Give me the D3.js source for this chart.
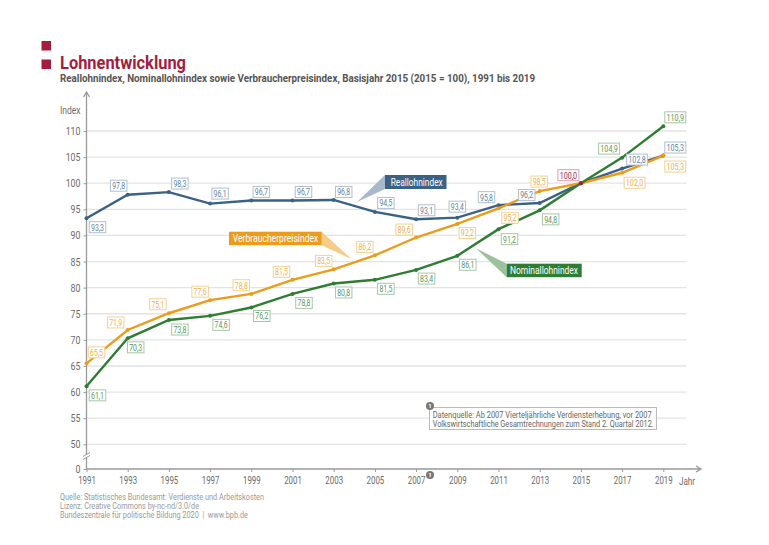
<!DOCTYPE html>
<html>
<head>
<meta charset="utf-8">
<script src="https://cdn.jsdelivr.net/npm/d3@7"></script>
<style>
  html, body { margin: 0; padding: 0; background: #fff; }
  svg { display: block; }
  text { font-family: Roboto, sans-serif; }
</style>
</head>
<body>
<script>
var years = [1991,1993,1995,1997,1999,2001,2003,2005,2007,2009,2011,2013,2015,2017,2019];
var reallohn = [93.3,97.8,98.3,96.1,96.7,96.7,96.8,94.5,93.1,93.4,95.8,96.2,100,102.8,105.3];
var nominallohn = [61.1,70.3,73.8,74.6,76.2,78.8,80.8,81.5,83.4,86.1,91.2,94.8,100,104.9,110.9];
var verbraucher = [65.5,71.9,75.1,77.6,78.8,81.5,83.5,86.2,89.6,92.2,95.2,98.5,100,102.0,105.3];
var yTicks = [0,50,55,60,65,70,75,80,85,90,95,100,105,110];

// label offsets from the point, per series
var realOff = [[11,9],[-9,-9],[11,-8.5],[10,-10],[10,-8.5],[11,-8.5],[10,-8],[11,-9],[10.5,-9],[0,-11],[-12,-8],[-13,-8],[-12.5,-8],[15,-9],[12,-8]];
var nomOff = [[11,9],[8,9],[11,9.5],[11,9],[10.5,8.5],[11.5,9],[10,9],[11,9],[10.5,8.7],[10.5,9],[11,10],[11,9],null,[-13,-9],[12,-9]];
var vpiOff = [[10,-11],[-12,-7.5],[-11,-9],[-10,-8.5],[-10,-8.7],[-11,-8],[-10,-8.5],[-10,-8.4],[-12,-8],[10,9],[11.5,9.5],[-0.5,-9.5],null,[12.5,10],[12,11]];

var red = '#a41d3f', grey = '#6b6b6b';
var width = 769, height = 545;

var svg = d3.select('body').append('svg').attr('width', width).attr('height', height);

var x = d3.scalePoint().domain(years).range([86.5, 663.3]);
var y = d3.scaleLinear().domain([0, 50, 110]).range([469, 444.3, 131]);

// squeeze text to a given width, the original uses a condensed face
function fit(sel, w) {
  sel.attr('textLength', w).attr('lengthAdjust', 'spacingAndGlyphs');
  return sel;
}
function narrow(sel, ratio) {
  sel.each(function () {
    var len = this.getComputedTextLength();
    d3.select(this).attr('textLength', len * ratio).attr('lengthAdjust', 'spacingAndGlyphs');
  });
}

// header
svg.selectAll('.sq').data([41, 59.5]).enter().append('rect')
  .attr('x', 41.5).attr('y', function (d) { return d; })
  .attr('width', 9.5).attr('height', 9.5).attr('fill', red);
fit(svg.append('text').attr('x', 60).attr('y', 69).attr('fill', red)
  .attr('font-size', 17.5).attr('font-weight', 700).text('Lohnentwicklung'), 126);
fit(svg.append('text').attr('x', 60).attr('y', 82).attr('fill', '#555')
  .attr('font-size', 11.5).attr('font-weight', 700)
  .text('Reallohnindex, Nominallohnindex sowie Verbraucherpreisindex, Basisjahr 2015 (2015 = 100), 1991 bis 2019'), 475);

// grid
svg.selectAll('.grid').data(yTicks.filter(function (d) { return d > 0; })).enter().append('line')
  .attr('x1', 86.5).attr('x2', 686.5)
  .attr('y1', function (d) { return y(d); }).attr('y2', function (d) { return y(d); })
  .attr('stroke', '#e3e3e3').attr('stroke-width', 1.3);

// axes
var yAxis = svg.append('g').attr('transform', 'translate(86.5,0)')
  .call(d3.axisLeft(y).tickValues(yTicks).tickSize(3).tickPadding(3));
var xAxis = svg.append('g').attr('transform', 'translate(0,469)')
  .call(d3.axisBottom(x).tickSize(3).tickPadding(5));
[yAxis, xAxis].forEach(function (a) {
  a.select('.domain').remove();
  a.selectAll('line').attr('stroke', '#999');
  a.selectAll('text').attr('fill', grey).style('font-family', 'Roboto, sans-serif');
});
yAxis.selectAll('text').attr('font-size', 11).call(narrow, 0.8);
xAxis.selectAll('text').attr('font-size', 10.5).call(narrow, 0.75);

svg.append('path').attr('d', 'M86.5,469V93M83.5,97L86.5,92L89.5,97').attr('fill', 'none').attr('stroke', '#999').attr('stroke-width', 1.3);
svg.append('path').attr('d', 'M86.5,469H700M696,466L701,469L696,472').attr('fill', 'none').attr('stroke', '#999').attr('stroke-width', 1.3);
// axis break
svg.append('rect').attr('x', 84).attr('y', 454.5).attr('width', 5).attr('height', 3).attr('fill', '#fff');
svg.append('path').attr('d', 'M83,456.5L90,452.5M83,459.5L90,455.5').attr('stroke', '#999').attr('stroke-width', 1).attr('fill', 'none');

fit(svg.append('text').attr('x', 60).attr('y', 114).attr('fill', grey).attr('font-size', 10.5).text('Index'), 20.5);
fit(svg.append('text').attr('x', 679).attr('y', 484.5).attr('fill', grey).attr('font-size', 10.5).text('Jahr'), 16);

// callouts
var callouts = [
  { name: 'Reallohnindex', c: '#3a6186', tri: '#a7b9cb', box: [385, 175, 61.5, 14], tip: [357, 202], tx: [390.7, 52] },
  { name: 'Verbraucherpreisindex', c: '#ec9c1a', tri: '#f5cd88', box: [229, 231.7, 92.7, 13.5], tip: [351.7, 259.3], tx: [232.7, 85.6] },
  { name: 'Nominallohnindex', c: '#2f7d32', tri: '#9cc29d', box: [506.7, 263.7, 75, 13.5], tip: [476, 248.3], tx: [510, 68] }
];
callouts.forEach(function (k) {
  var b = k.box;
  var edge = k.tip[0] < b[0] ? b[0] : b[0] + b[2];
  svg.append('path')
    .attr('d', d3.line()([[edge, b[1]], k.tip, [edge, b[1] + b[3]]]) + 'Z')
    .attr('fill', k.tri);
  svg.append('rect').attr('x', b[0]).attr('y', b[1]).attr('width', b[2]).attr('height', b[3]).attr('fill', k.c);
  fit(svg.append('text').attr('x', k.tx[0]).attr('y', b[1] + b[3] / 2 + 3.5).attr('fill', '#fff')
    .attr('font-size', 10.5).text(k.name), k.tx[1]);
});

// lines
var series = [
  { name: 'real', values: reallohn, off: realOff, color: '#3a6186', text: '#5f7f9e', border: '#afc0d0' },
  { name: 'vpi', values: verbraucher, off: vpiOff, color: '#ec9c1a', text: '#efb04f', border: '#f5d193' },
  { name: 'nom', values: nominallohn, off: nomOff, color: '#2f7d32', text: '#5b965d', border: '#a5c8a6' }
];
var line = d3.line()
  .x(function (d, i) { return x(years[i]); })
  .y(function (d) { return y(d); });

series.forEach(function (s) {
  svg.append('path').datum(s.values).attr('d', line)
    .attr('fill', 'none').attr('stroke', s.color).attr('stroke-width', 2.4);
});
series.forEach(function (s) {
  svg.selectAll('.pt-' + s.name).data(s.values).enter().append('circle')
    .attr('cx', function (d, i) { return x(years[i]); })
    .attr('cy', function (d) { return y(d); })
    .attr('r', 2).attr('fill', s.color);
});
svg.append('circle').attr('cx', x(2015)).attr('cy', y(100)).attr('r', 2).attr('fill', red);

// value labels
function fmt(v) { return v.toFixed(1).replace('.', ','); }
function label(v, px, py, text, border) {
  var w = v >= 100 ? 21 : 16.5;
  var g = svg.append('g').attr('transform', 'translate(' + px + ',' + py + ')');
  g.append('rect').attr('x', -w / 2).attr('y', -5.5).attr('width', w).attr('height', 11)
    .attr('fill', '#fff').attr('stroke', border).attr('stroke-width', 1);
  fit(g.append('text').attr('text-anchor', 'middle').attr('y', 3.4).attr('fill', text)
    .attr('font-size', 9.5).text(fmt(v)), w - 3.5);
}
series.forEach(function (s) {
  s.values.forEach(function (v, i) {
    if (!s.off[i] || (s.name === 'real' && years[i] === 2015)) return;
    label(v, x(years[i]) + s.off[i][0], y(v) + s.off[i][1], s.text, s.border);
  });
});
label(100, x(2015) - 12.5, y(100) - 8, red, '#d5a0ae');

// note
svg.append('rect').attr('x', 429.5).attr('y', 407.5).attr('width', 227).attr('height', 22)
  .attr('fill', '#fff').attr('stroke', '#bbb');
fit(svg.append('text').attr('x', 432.7).attr('y', 418).attr('fill', '#666').attr('font-size', 9.5)
  .text('Datenquelle: Ab 2007 Vierteljährliche Verdiensterhebung, vor 2007'), 219);
fit(svg.append('text').attr('x', 432.7).attr('y', 427).attr('fill', '#666').attr('font-size', 9.5)
  .text('Volkswirtschaftliche Gesamtrechnungen zum Stand 2. Quartal 2012.'), 221);
[[430, 406], [430, 475]].forEach(function (p) {
  svg.append('circle').attr('cx', p[0]).attr('cy', p[1]).attr('r', 4).attr('fill', '#777');
  svg.append('text').attr('x', p[0]).attr('y', p[1] + 2.2).attr('text-anchor', 'middle')
    .attr('fill', '#fff').attr('font-size', 6).attr('font-weight', 700).text('1');
});

// source
var sources = ['Quelle: Statistisches Bundesamt: Verdienste und Arbeitskosten',
  'Lizenz: Creative Commons by-nc-nd/3.0/de',
  'Bundeszentrale für politische Bildung 2020  |  www.bpb.de'];
var sourceWidths = [204, 139, 188];
sources.forEach(function (t, i) {
  fit(svg.append('text').attr('x', 60).attr('y', 500 + i * 9).attr('fill', '#999')
    .attr('font-size', 9).attr('xml:space', 'preserve').text(t), sourceWidths[i]);
});
</script>
</body>
</html>
